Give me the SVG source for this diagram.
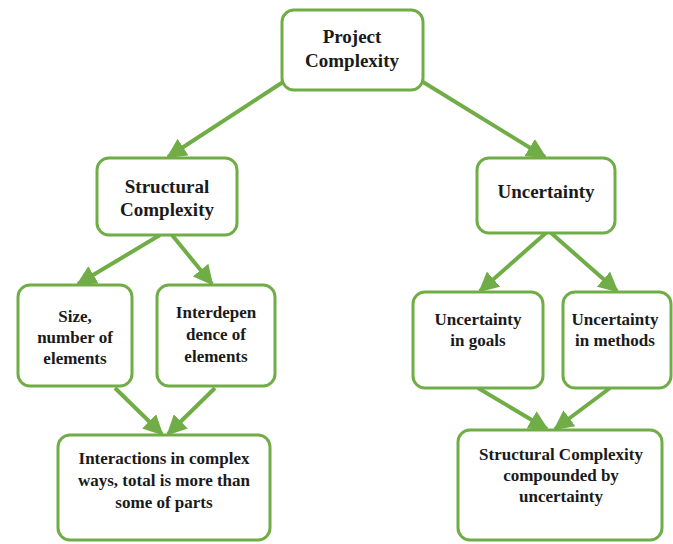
<svg xmlns="http://www.w3.org/2000/svg" width="673" height="544" viewBox="0 0 673 544">
<style>
.box{fill:#fff;stroke:#70ad47;stroke-width:3}
.t1{font-family:"Liberation Serif",serif;font-weight:bold;font-size:19px;fill:#1a1a1a;text-anchor:middle}
.t2{font-family:"Liberation Serif",serif;font-weight:bold;font-size:17px;fill:#1a1a1a;text-anchor:middle}
.edge{stroke:#70ad47;stroke-width:4;fill:none;marker-end:url(#ah)}
</style>
<defs>
<marker id="ah" viewBox="0 0 10 10" refX="9" refY="5" markerWidth="5" markerHeight="5" orient="auto" markerUnits="strokeWidth">
<path d="M0,0 L10,5 L0,10 Z" fill="#70ad47"/>
</marker>
</defs>
<rect width="673" height="544" fill="#fff"/>
<g id="connectors">
<line class="edge" x1="283" y1="82" x2="168" y2="157"/>
<line class="edge" x1="423" y1="82" x2="545" y2="157"/>
<line class="edge" x1="160" y1="235" x2="78" y2="284"/>
<line class="edge" x1="172" y1="235" x2="212" y2="284"/>
<line class="edge" x1="547" y1="232" x2="480" y2="291"/>
<line class="edge" x1="550" y1="232" x2="617" y2="291"/>
<line class="edge" x1="115" y1="388" x2="162" y2="434"/>
<line class="edge" x1="215" y1="388" x2="168" y2="434"/>
<line class="edge" x1="478" y1="388" x2="547" y2="429"/>
<line class="edge" x1="610" y1="388" x2="555" y2="429"/>
</g>
<g id="project">
<rect class="box" x="282" y="10" width="141" height="80" rx="12"/>
<text class="t1" x="352" y="43">Project</text>
<text class="t1" x="352" y="67">Complexity</text>
</g>
<g id="structural">
<rect class="box" x="97" y="158" width="140" height="77" rx="12"/>
<text class="t1" x="167" y="193">Structural</text>
<text class="t1" x="167" y="216">Complexity</text>
</g>
<g id="uncertainty">
<rect class="box" x="477" y="158" width="138" height="75" rx="12"/>
<text class="t1" x="546" y="198">Uncertainty</text>
</g>
<g id="size">
<rect class="box" x="18" y="285" width="114" height="101" rx="12"/>
<text class="t2" x="75" y="322">Size,</text>
<text class="t2" x="75" y="343">number of</text>
<text class="t2" x="75" y="364">elements</text>
</g>
<g id="interdependence">
<rect class="box" x="157" y="285" width="118" height="101" rx="12"/>
<text class="t2" x="216" y="318">Interdepen</text>
<text class="t2" x="216" y="340">dence of</text>
<text class="t2" x="216" y="362">elements</text>
</g>
<g id="goals">
<rect class="box" x="413" y="292" width="130" height="96" rx="12"/>
<text class="t2" x="478" y="325">Uncertainty</text>
<text class="t2" x="478" y="346">in goals</text>
</g>
<g id="methods">
<rect class="box" x="563" y="292" width="108" height="96" rx="12"/>
<text class="t2" x="615" y="325">Uncertainty</text>
<text class="t2" x="615" y="346">in methods</text>
</g>
<g id="interactions">
<rect class="box" x="58" y="435" width="212" height="105" rx="12"/>
<text class="t2" x="164" y="464">Interactions in complex</text>
<text class="t2" x="164" y="486">ways, total is more than</text>
<text class="t2" x="164" y="508">some of parts</text>
</g>
<g id="compounded">
<rect class="box" x="458" y="430" width="204" height="110" rx="12"/>
<text class="t2" x="561" y="460">Structural Complexity</text>
<text class="t2" x="561" y="481">compounded by</text>
<text class="t2" x="561" y="502">uncertainty</text>
</g>
</svg>
